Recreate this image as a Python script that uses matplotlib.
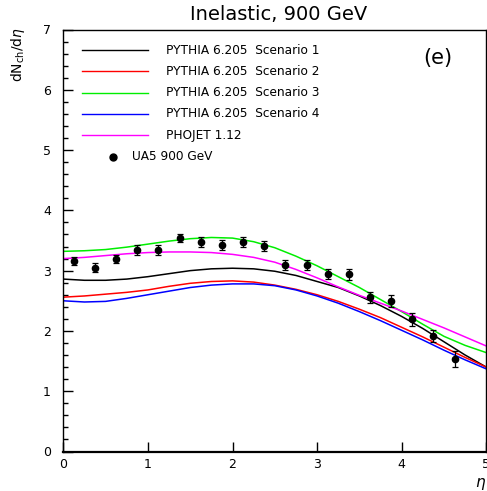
import numpy as np
import matplotlib
matplotlib.use("Agg")
import matplotlib.pyplot as plt
from matplotlib.ticker import MultipleLocator

plt.rcParams['font.family'] = ['DejaVu Sans']
plt.rcParams['mathtext.fontset'] = 'dejavusans'

# ---- data ----
eta_grid = [0.0, 0.25, 0.5, 0.75, 1.0, 1.25, 1.5, 1.75, 2.0, 2.25, 2.5,
            2.75, 3.0, 3.25, 3.5, 3.75, 4.0, 4.25, 4.5, 4.75, 5.0]
scen1 = [2.86, 2.84, 2.84, 2.86, 2.90, 2.95, 3.00, 3.03, 3.04, 3.03, 2.99,
         2.92, 2.82, 2.72, 2.58, 2.42, 2.24, 2.04, 1.82, 1.60, 1.40]
scen2 = [2.56, 2.58, 2.61, 2.64, 2.68, 2.74, 2.79, 2.82, 2.83, 2.81, 2.76,
         2.69, 2.60, 2.49, 2.36, 2.22, 2.06, 1.90, 1.73, 1.56, 1.40]
scen3 = [3.32, 3.33, 3.35, 3.39, 3.44, 3.49, 3.53, 3.55, 3.54, 3.48, 3.38,
         3.24, 3.08, 2.90, 2.72, 2.52, 2.32, 2.11, 1.91, 1.76, 1.64]
scen4 = [2.50, 2.48, 2.49, 2.54, 2.60, 2.66, 2.72, 2.76, 2.78, 2.78, 2.75,
         2.68, 2.58, 2.46, 2.32, 2.17, 2.01, 1.85, 1.68, 1.52, 1.37]
phojet = [3.20, 3.22, 3.25, 3.28, 3.30, 3.31, 3.31, 3.30, 3.27, 3.22, 3.14,
          3.02, 2.88, 2.73, 2.59, 2.46, 2.33, 2.19, 2.05, 1.90, 1.75]

ua5_eta = [0.125, 0.375, 0.625, 0.875, 1.125, 1.375, 1.625, 1.875, 2.125, 2.375,
           2.625, 2.875, 3.125, 3.375, 3.625, 3.875, 4.125, 4.375, 4.625]
ua5_val = [3.16, 3.05, 3.19, 3.34, 3.34, 3.54, 3.48, 3.43, 3.47, 3.41,
           3.09, 3.09, 2.94, 2.94, 2.56, 2.50, 2.19, 1.92, 1.53]
ua5_err = [0.07, 0.08, 0.07, 0.08, 0.08, 0.07, 0.08, 0.08, 0.08, 0.08,
           0.08, 0.08, 0.08, 0.09, 0.09, 0.10, 0.10, 0.10, 0.13]

labels = ["PYTHIA 6.205  Scenario 1", "PYTHIA 6.205  Scenario 2",
          "PYTHIA 6.205  Scenario 3", "PYTHIA 6.205  Scenario 4", "PHOJET 1.12"]
colors = ["black", "#ff0000", "#00ee00", "#0000ff", "#ff00ff"]
series = [scen1, scen2, scen3, scen4, phojet]

fig = plt.figure(figsize=(4.87, 4.91), dpi=100)
ax = fig.add_axes([63.3/487, 1-451.5/491, 423/487, 422/491])

for s, c in zip(series, colors):
    ax.plot(eta_grid, s, color=c, lw=1.1)

ax.errorbar(ua5_eta, ua5_val, yerr=ua5_err, fmt='o', color='black', ms=4.5,
            elinewidth=0.9, capsize=2, capthick=0.9, zorder=5)

ax.set_xlim(0, 5)
ax.set_ylim(0, 7)
ax.xaxis.set_major_locator(MultipleLocator(1))
ax.yaxis.set_major_locator(MultipleLocator(1))
ax.yaxis.set_minor_locator(MultipleLocator(0.2))
ax.tick_params(axis='both', which='major', direction='in', length=7, width=1,
               labelsize=9)
ax.tick_params(axis='y', which='minor', direction='in', length=3.5, width=1)
ax.tick_params(axis='y', which='major', pad=9)
ax.tick_params(axis='x', which='major', pad=5)
for sp in ax.spines.values():
    sp.set_linewidth(1.0)
ax.spines['bottom'].set_linewidth(1.6)

# legend (manual)
y0 = 0.951
dy = 0.0504
for i, (lab, c) in enumerate(zip(labels, colors)):
    y = y0 - i * dy
    ax.plot([0.044, 0.200], [y, y], transform=ax.transAxes, color=c, lw=1.0,
            clip_on=False)
    ax.text(0.242, y, lab, transform=ax.transAxes, fontsize=8.7, va='center',
            ha='left')
y = y0 - 5 * dy
ax.plot([0.118], [y], 'o', color='black', ms=5, transform=ax.transAxes)
ax.text(0.162, y, "UA5 900 GeV", transform=ax.transAxes, fontsize=8.7,
        va='center', ha='left')

ax.text(0.885, 0.932, "(e)", transform=ax.transAxes, fontsize=15,
        ha='center', va='center')

fig.text(279/487, 1-14/491, "Inelastic, 900 GeV", fontsize=14, ha='center',
         va='center')
fig.text(18/487, 1-27/491, r"dN$_{\mathregular{ch}}$/d$\eta$", rotation=90,
         fontsize=10, ha='center', va='top')
fig.text(481/487, 1-484/491, r"$\eta$", fontsize=11, ha='center',
         va='center')

fig.savefig("out.png", dpi=100)
